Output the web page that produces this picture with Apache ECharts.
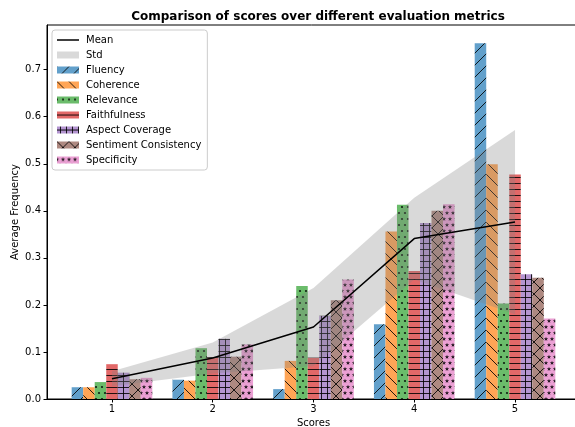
<!DOCTYPE html>
<html lang="en">
<head>
    <meta charset="UTF-8">
    <title>Comparison of scores</title>
    <script src="https://cdn.jsdelivr.net/npm/echarts@6/dist/echarts.min.js"></script>
    <style>
        html, body { margin: 0; padding: 0; background: #fff; }
        #main { width: 575px; height: 427px; }
    </style>
</head>
<body>
<div id="main"></div>
<script>
// data
var scores = [1, 2, 3, 4, 5];
var metrics = ['Fluency', 'Coherence', 'Relevance', 'Faithfulness', 'Aspect Coverage', 'Sentiment Consistency', 'Specificity'];
var fluency     = [0.025, 0.041, 0.021, 0.159, 0.756];
var coherence   = [0.025, 0.039, 0.081, 0.356, 0.499];
var relevance   = [0.036, 0.108, 0.240, 0.413, 0.203];
var faithful    = [0.074, 0.089, 0.088, 0.272, 0.477];
var aspect      = [0.056, 0.128, 0.177, 0.374, 0.265];
var sentiment   = [0.042, 0.090, 0.210, 0.400, 0.258];
var specificity = [0.045, 0.116, 0.254, 0.414, 0.171];
var meanVals = [0.043, 0.087, 0.153, 0.341, 0.376];
var stdVals  = [0.016, 0.033, 0.083, 0.087, 0.196];
var yTicks = [0, 0.1, 0.2, 0.3, 0.4, 0.5, 0.6, 0.7];

var allVals = [fluency, coherence, relevance, faithful, aspect, sentiment, specificity];
var barColors = ['#62a0cb', '#ffa556', '#6bbc6b', '#e26868', '#b495d1', '#ae8981', '#eba0d4'];
var hatchColor = 'rgba(0,0,0,0.85)';

// hatch tiles (matplotlib-like)
function tile(w, h, bg, draw) {
    var c = document.createElement('canvas');
    c.width = w; c.height = h;
    var ctx = c.getContext('2d');
    ctx.fillStyle = bg;
    ctx.fillRect(0, 0, w, h);
    ctx.strokeStyle = hatchColor;
    ctx.fillStyle = hatchColor;
    ctx.lineWidth = 1;
    draw(ctx, w, h);
    return { image: c, repeat: 'repeat' };
}
function diag(ctx, s, dir) {
    ctx.beginPath();
    [-s, 0, s].forEach(function (k) {
        if (dir > 0) { ctx.moveTo(k, s); ctx.lineTo(k + s, 0); }
        else { ctx.moveTo(k, 0); ctx.lineTo(k + s, s); }
    });
    ctx.stroke();
}
function dot(ctx, x, y, r) {
    ctx.beginPath(); ctx.arc(x, y, r, 0, Math.PI * 2); ctx.fill();
}
function star(ctx, x, y, R, r) {
    ctx.beginPath();
    for (var i = 0; i < 10; i++) {
        var a = -Math.PI / 2 + i * Math.PI / 5;
        var rr = i % 2 ? r : R;
        ctx.lineTo(x + rr * Math.cos(a), y + rr * Math.sin(a));
    }
    ctx.closePath(); ctx.fill();
}
var patterns = [
    tile(12, 12, barColors[0], function (ctx) { diag(ctx, 12, 1); }),
    tile(12, 12, barColors[1], function (ctx) { diag(ctx, 12, -1); }),
    tile(6, 12, barColors[2], function (ctx) {
        [[0, 3], [6, 3], [3, 9]].forEach(function (p) { dot(ctx, p[0], p[1], 1.1); });
    }),
    tile(6, 6, barColors[3], function (ctx) {
        ctx.beginPath(); ctx.moveTo(0, 3.5); ctx.lineTo(6, 3.5); ctx.stroke();
    }),
    tile(6, 6, barColors[4], function (ctx) {
        ctx.beginPath(); ctx.moveTo(0, 3.5); ctx.lineTo(6, 3.5);
        ctx.moveTo(3.5, 0); ctx.lineTo(3.5, 6); ctx.stroke();
    }),
    tile(12, 12, barColors[5], function (ctx) { diag(ctx, 12, 1); diag(ctx, 12, -1); }),
    tile(6, 12, barColors[6], function (ctx) {
        [[0, 3], [6, 3], [3, 9], [3, -3], [3, 15]].forEach(function (p) { star(ctx, p[0], p[1], 2.3, 0.95); });
    })
];

var groupWidth = 0.8;
var barW = groupWidth / metrics.length;

var series = [];
metrics.forEach(function (name, m) {
    series.push({
        name: name,
        type: 'custom',
        z: 2,
        itemStyle: { color: patterns[m] },
        data: scores.map(function (s, i) { return [s, allVals[m][i]]; }),
        renderItem: function (params, api) {
            var x = api.value(0), y = api.value(1);
            var x0 = x - groupWidth / 2 + m * barW;
            var p0 = api.coord([x0, y]);
            var p1 = api.coord([x0 + barW, 0]);
            return {
                type: 'rect',
                shape: { x: p0[0], y: p0[1], width: p1[0] - p0[0], height: p1[1] - p0[1] },
                style: { fill: patterns[m] }
            };
        }
    });
});

series.push({
    name: 'Std',
    type: 'custom',
    z: 3,
    itemStyle: { color: 'rgba(128,128,128,0.3)' },
    data: scores.map(function (s, i) { return [s, meanVals[i]]; }),
    renderItem: function (params, api) {
        if (params.dataIndex !== 0) return null;
        var pts = [];
        scores.forEach(function (s, i) { pts.push(api.coord([s, meanVals[i] + stdVals[i]])); });
        for (var i = scores.length - 1; i >= 0; i--) pts.push(api.coord([scores[i], meanVals[i] - stdVals[i]]));
        return {
            type: 'polygon',
            shape: { points: pts },
            style: { fill: 'rgba(128,128,128,0.3)', stroke: null }
        };
    }
});

series.push({
    name: 'Mean',
    type: 'line',
    z: 4,
    symbol: 'none',
    showSymbol: false,
    lineStyle: { color: '#000', width: 1.5 },
    itemStyle: { color: '#000' },
    data: scores.map(function (s, i) { return [s, meanVals[i]]; })
});

var font = 'DejaVu Sans';
var chart = echarts.init(document.getElementById('main'));
chart.setOption({
    animation: false,
    backgroundColor: '#fff',
    title: {
        text: 'Comparison of scores over different evaluation metrics',
        left: 313,
        textAlign: 'center',
        top: 6,
        textStyle: { fontFamily: font, fontSize: 12, fontWeight: 'bold', color: '#000' }
    },
    grid: {
        left: 47, top: 25, width: 533, height: 374,
        containLabel: false,
        outerBoundsMode: 'none',
        show: true, borderColor: '#000', borderWidth: 1, backgroundColor: 'transparent'
    },
    legend: {
        left: 52, top: 30,
        orient: 'vertical',
        itemWidth: 22, itemHeight: 7, itemGap: 3,
        padding: [4, 6, 4, 5],
        backgroundColor: 'rgba(255,255,255,0.8)',
        borderColor: '#cccccc', borderWidth: 1, borderRadius: 3,
        textStyle: { fontFamily: font, fontSize: 10, color: '#000', lineHeight: 12, padding: [0, 0, 0, 2] },
        data: [
            { name: 'Mean', icon: 'path://M0,0L22,0L22,1.5L0,1.5Z', itemStyle: { color: '#000' } },
            { name: 'Std', icon: 'rect' }
        ].concat(metrics.map(function (n) { return { name: n, icon: 'rect' }; }))
    },
    xAxis: {
        type: 'value',
        min: 0.355, max: 5.645,
        name: 'Scores',
        nameLocation: 'middle',
        nameGap: 19,
        nameMoveOverlap: false,
        nameTextStyle: { fontFamily: font, fontSize: 10, color: '#000' },
        axisLine: { show: true, lineStyle: { color: '#000', width: 1 } },
        axisTick: { show: true, length: 3.5, customValues: scores, lineStyle: { color: '#000' } },
        axisLabel: { customValues: scores, fontFamily: font, fontSize: 10, color: '#000', margin: 5 },
        splitLine: { show: false }
    },
    yAxis: {
        type: 'value',
        min: 0, max: 0.795, interval: 0.1,
        name: 'Average Frequency',
        nameLocation: 'middle',
        nameGap: 27,
        nameMoveOverlap: false,
        nameTextStyle: { fontFamily: font, fontSize: 10, color: '#000' },
        axisLine: { show: true, lineStyle: { color: '#000', width: 1 } },
        axisTick: { show: true, length: 3.5, customValues: yTicks, lineStyle: { color: '#000' } },
        axisLabel: {
            customValues: yTicks, fontFamily: font, fontSize: 10, color: '#000', margin: 6,
            formatter: function (v) { return v.toFixed(1); }
        },
        splitLine: { show: false }
    },
    series: series
});
</script>
</body>
</html>
